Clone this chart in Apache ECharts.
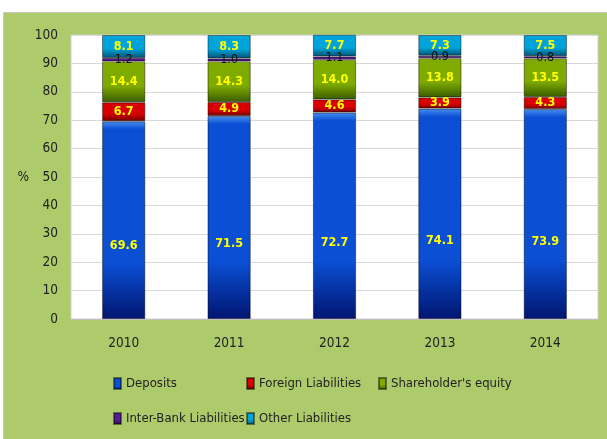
<!DOCTYPE html>
<html>
<head>
<meta charset="utf-8">
<script src="https://cdn.jsdelivr.net/npm/echarts@6/dist/echarts.min.js"></script>
<style>
  html, body { margin: 0; padding: 0; background: #fff; }
  #main { width: 607px; height: 439px; }
</style>
</head>
<body>
<div id="main"></div>
<script>
const years = ['2010', '2011', '2012', '2013', '2014']
const deposits = [69.6, 71.5, 72.7, 74.1, 73.9]
const foreignLiab = [6.7, 4.9, 4.6, 3.9, 4.3]
const equity = [14.4, 14.3, 14.0, 13.8, 13.5]
const interBank = [1.2, 1.0, 1.1, 0.9, 0.8]
const otherLiab = [8.1, 8.3, 7.7, 7.3, 7.5]

const FONT = "'DejaVu Sans Condensed', sans-serif"

// bevel-ish vertical gradient: light top edge, main body, dark bottom
const grad = (top, mid, bottom, hold) => new echarts.graphic.LinearGradient(0, 0, 0, 1, [
  { offset: 0, color: top },
  { offset: 0.04, color: mid },
  { offset: hold || 0.6, color: mid },
  { offset: 1, color: bottom }
])

const yellowLabel = {
  show: true,
  position: 'inside',
  color: '#ffff00',
  fontFamily: FONT,
  fontSize: 12.5,
  fontWeight: 'bold',
  formatter: p => p.value.toFixed(1)
}

const mkSeries = (name, data, fill, label) => ({
  name: name,
  type: 'bar',
  stack: 'total',
  barWidth: '41%',
  data: data,
  itemStyle: { color: fill, borderColor: 'rgba(0,0,0,0.45)', borderWidth: 1 },
  label: label
})

const chart = echarts.init(document.getElementById('main'))

const option = {
  animation: false,
  textStyle: { fontFamily: FONT },
  graphic: [{
    type: 'rect',
    z: -10,
    shape: { x: 3.5, y: 12.5, width: 610, height: 440 },
    style: { fill: '#adcb6b', stroke: '#c8c8c8', lineWidth: 1 }
  }],
  grid: {
    left: 71, right: 9, top: 35, bottom: 120,
    show: true, backgroundColor: '#ffffff', borderColor: '#d0d0d0', borderWidth: 1
  },
  legend: [
    { data: ['Deposits', 'Inter-Bank Liabilities'], left: 113, top: 377 },
    { data: ['Foreign Liabilities', 'Other Liabilities'], left: 246, top: 377 },
    { data: ["Shareholder's equity"], left: 378, top: 377 }
  ].map(l => Object.assign(l, {
    orient: 'vertical',
    padding: 0,
    itemGap: 22,
    itemWidth: 7,
    itemHeight: 11,
    icon: 'rect',
    textStyle: { fontFamily: FONT, fontSize: 13, color: '#222' }
  })),
  xAxis: {
    type: 'category',
    data: years,
    axisTick: { show: false },
    axisLine: { lineStyle: { color: '#bfbfbf' } },
    axisLabel: { color: '#222', fontSize: 13.5, fontFamily: FONT, margin: 17 }
  },
  yAxis: {
    type: 'value',
    min: 0, max: 100, interval: 10,
    name: '%',
    nameLocation: 'middle',
    nameRotate: 0,
    nameGap: 39,
    nameTextStyle: { color: '#222', fontSize: 13.5, fontFamily: FONT },
    axisLine: { show: false },
    axisTick: { show: false },
    axisLabel: { color: '#222', fontSize: 13.5, fontFamily: FONT, margin: 13 },
    splitLine: { lineStyle: { color: '#d9d9d9' } }
  },
  series: [
    mkSeries('Deposits', deposits, grad('#4a90f0', '#0b4fd4', '#001570', 0.72),
      Object.assign({}, yellowLabel, { position: ['50%', '63%'], align: 'center', verticalAlign: 'middle' })),
    mkSeries('Foreign Liabilities', foreignLiab, grad('#ff4a3a', '#d80000', '#6e0000'), yellowLabel),
    mkSeries("Shareholder's equity", equity, grad('#dcf530', '#7fab00', '#3a5c00'), yellowLabel),
    mkSeries('Inter-Bank Liabilities', interBank, grad('#8a4ac8', '#5a1a96', '#2a0a50'),
      Object.assign({}, yellowLabel, { color: '#111', fontWeight: 'normal' })),
    mkSeries('Other Liabilities', otherLiab, grad('#50e4ff', '#00a4da', '#04506e'), yellowLabel)
  ]
}

chart.setOption(option)
</script>
</body>
</html>
